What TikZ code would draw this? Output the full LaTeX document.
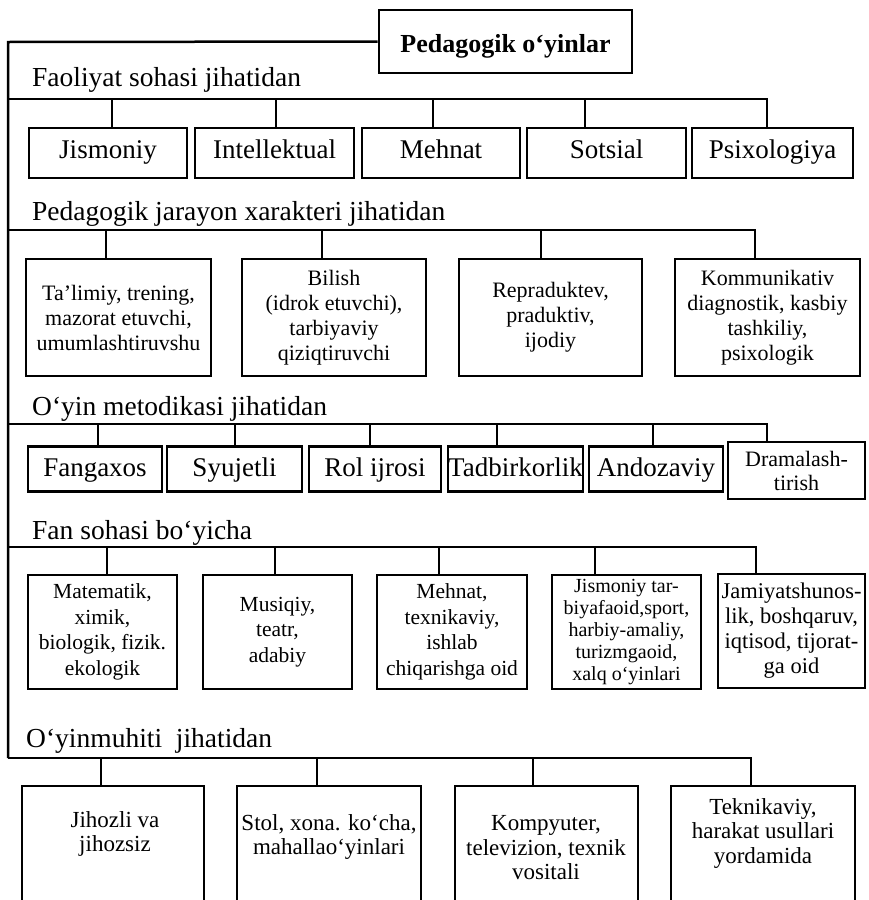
\documentclass[tikz,border=0pt]{standalone}
\usepackage{fontspec}
\setmainfont{Liberation Serif}
\newcommand\fzcat{\fontsize{27.5}{30}\selectfont}
\newcommand\fzone{\fontsize{27}{30}\selectfont}
\newcommand\fzroot{\fontsize{26}{30}\selectfont\bfseries}
\newcommand\fztwo{\fontsize{22}{25}\selectfont}
\newcommand\fzdram{\fontsize{22}{24}\selectfont}
\newcommand\fzfour{\fontsize{21.5}{25.5}\selectfont}
\newcommand\fzfoursm{\fontsize{20}{22}\selectfont}
\newcommand\fzfive{\fontsize{23}{24.5}\selectfont}
\begin{document}
\begin{tikzpicture}[x=1pt,y=-1pt,
  ln/.style={line width=2.5pt},
  box/.style={draw,line width=2.6pt,inner sep=0pt,align=center},
  cat/.style={anchor=base west,inner sep=0pt,font=\fzcat},
  txt/.style={inner sep=0pt,align=center}]
\useasboundingbox (0,0) rectangle (868,900);
\clip (0,0) rectangle (868,900);

% root
\node[box,minimum width=253pt,minimum height=63pt,font=\fzroot,text height=24pt,text depth=3pt] (root) at (505.5,41.5) {Pedagogik o‘yinlar};

% category labels
\node[cat] (c1) at (32,86) {Faoliyat sohasi jihatidan};
\node[cat] (c2) at (32,220) {Pedagogik jarayon xarakteri jihatidan};
\node[cat] (c3) at (32,415) {O‘yin metodikasi jihatidan};
\node[cat] (c4) at (32,539) {Fan sohasi bo‘yicha};
\node[cat] (c5) at (26,747) {O‘yinmuhiti\ \ jihatidan};

% row 1
\tikzset{r1/.style={box,minimum height=50pt,font=\fzone,text height=17pt,text depth=7pt}}
\node[r1,minimum width=158pt] (b11) at (108,153) {Jismoniy};
\node[r1,minimum width=159pt] (b12) at (274.5,153) {Intellektual};
\node[r1,minimum width=158pt] (b13) at (441,153) {Mehnat};
\node[r1,minimum width=159pt] (b14) at (606.5,153) {Sotsial};
\node[r1,minimum width=161pt] (b15) at (772.5,153) {Psixologiya};

% row 2
\tikzset{r2/.style={box,minimum height=117pt,font=\fztwo}}
\node[r2,minimum width=185pt] (b21) at (118.5,317.5) {Ta’limiy, trening,\\ mazorat etuvchi,\\ umumlashtiruvshu};
\node[r2,minimum width=184pt] (b22) at (334,317.5) {Bilish\\ (idrok etuvchi),\\ tarbiyaviy\\ qiziqtiruvchi};
\node[r2,minimum width=183pt] (b23) at (550.5,317.5) {Repraduktev,\\ praduktiv,\\ ijodiy};
\node[r2,minimum width=185pt] (b24) at (767.5,317.5) {Kommunikativ\\ diagnostik, kasbiy\\ tashkiliy,\\ psixologik};

% row 3
\tikzset{r3/.style={box,minimum height=45pt,font=\fzone,text height=20pt,text depth=6pt}}
\node[r3,minimum width=134pt] (b31) at (95,469) {Fangaxos};
\node[r3,minimum width=135pt] (b32) at (234.5,469) {Syujetli};
\node[r3,minimum width=132pt] (b33) at (375,469) {Rol ijrosi};
\node[r3,minimum width=135pt] (b34) at (515.5,469) {Tadbirkorlik};
\node[r3,minimum width=134pt] (b35) at (656,469) {Andozaviy};
\node[box,minimum width=137pt,minimum height=57pt,font=\fzdram] (b36) at (796.5,470.5) {Dramalash-\\ tirish};

% row 4
\tikzset{r4/.style={box,minimum height=114pt,font=\fzfour}}
\node[r4,minimum width=149pt] (b41) at (102.5,632) {Matematik,\\ ximik,\\ biologik, fizik.\\ ekologik};
\node[r4,minimum width=149pt] (b42) at (277.5,632) {Musiqiy,\\ teatr,\\ adabiy};
\node[r4,minimum width=150pt] (b43) at (452,632) {Mehnat,\\ texnikaviy,\\ ishlab\\ chiqarishga oid};
\node[r4,minimum width=149pt,font=\fzfoursm] (b44) at (626.5,632) {Jismoniy tar-\\ biyafaoid,sport,\\ harbiy-amaliy,\\ turizmgaoid,\\ xalq o‘yinlari};
\node[r4,minimum width=147pt,font=\fontsize{22.5}{25}\selectfont] (b45) at (791.5,631) {Jamiyatshunos-\\ lik, boshqaruv,\\ iqtisod, tijorat-\\ ga oid};

% row 5 (boxes run off the bottom edge)
\tikzset{r5/.style={box,minimum height=122pt}}
\node[r5,minimum width=182pt] (b51) at (113,847) {};
\node[r5,minimum width=184pt] (b52) at (329,847) {};
\node[r5,minimum width=183pt] (b53) at (546.5,847) {};
\node[r5,minimum width=184pt] (b54) at (763,847) {};
\node[txt,font=\fzfive] (t51) at (115,834) {Jihozli va\\ jihozsiz};
\node[txt,font=\fzfive] (t52) at (329,837) {Stol, xona. ko‘cha,\\ mahallao‘yinlari};
\node[txt,font=\fzfive] (t53) at (546,848) {Kompyuter,\\ televizion, texnik\\ vositali};
\node[txt,font=\fzfive] (t54) at (763,833) {Teknikaviy,\\ harakat usullari\\ yordamida};

% trunk
\coordinate (tr0) at (8,42);
\coordinate (tr1) at (8,99);
\coordinate (tr2) at (8,230);
\coordinate (tr3) at (8,424);
\coordinate (tr4) at (8,547);
\coordinate (tr5) at (8,758);
\draw[ln,line join=miter] (root.west) -- (tr0) -- (tr5);

% row 1 bus
\coordinate (j11) at (112,99);
\coordinate (j12) at (276,99);
\coordinate (j13) at (433,99);
\coordinate (j14) at (585,99);
\coordinate (j15) at (767,99);
\draw[ln,line join=miter] (tr1) -- (j15) -- (j15 |- b15.north);
\foreach \j/\b in {j11/b11,j12/b12,j13/b13,j14/b14}
  \draw[ln] (\j) -- (\j |- \b.north);

% row 2 bus
\coordinate (j21) at (106,230);
\coordinate (j22) at (322,230);
\coordinate (j23) at (541,230);
\coordinate (j24) at (755,230);
\draw[ln,line join=miter] (tr2) -- (j24) -- (j24 |- b24.north);
\foreach \j/\b in {j21/b21,j22/b22,j23/b23}
  \draw[ln] (\j) -- (\j |- \b.north);

% row 3 bus
\coordinate (j31) at (98,424);
\coordinate (j32) at (235,424);
\coordinate (j33) at (370,424);
\coordinate (j34) at (497,424);
\coordinate (j35) at (653,424);
\coordinate (j36) at (767,424);
\draw[ln,line join=miter] (tr3) -- (j36) -- (j36 |- b36.north);
\foreach \j/\b in {j31/b31,j32/b32,j33/b33,j34/b34,j35/b35}
  \draw[ln] (\j) -- (\j |- \b.north);

% row 4 bus
\coordinate (j41) at (107,547);
\coordinate (j42) at (275,547);
\coordinate (j43) at (439,547);
\coordinate (j44) at (595,547);
\coordinate (j45) at (756,547);
\draw[ln,line join=miter] (tr4) -- (j45) -- (j45 |- b45.north);
\foreach \j/\b in {j41/b41,j42/b42,j43/b43,j44/b44}
  \draw[ln] (\j) -- (\j |- \b.north);

% row 5 bus
\coordinate (j51) at (101,758);
\coordinate (j52) at (317,758);
\coordinate (j53) at (533,758);
\coordinate (j54) at (751,758);
\draw[ln,line join=miter] (tr5) -- (j54) -- (j54 |- b54.north);
\foreach \j/\b in {j51/b51,j52/b52,j53/b53}
  \draw[ln] (\j) -- (\j |- \b.north);
\end{tikzpicture}
\end{document}
